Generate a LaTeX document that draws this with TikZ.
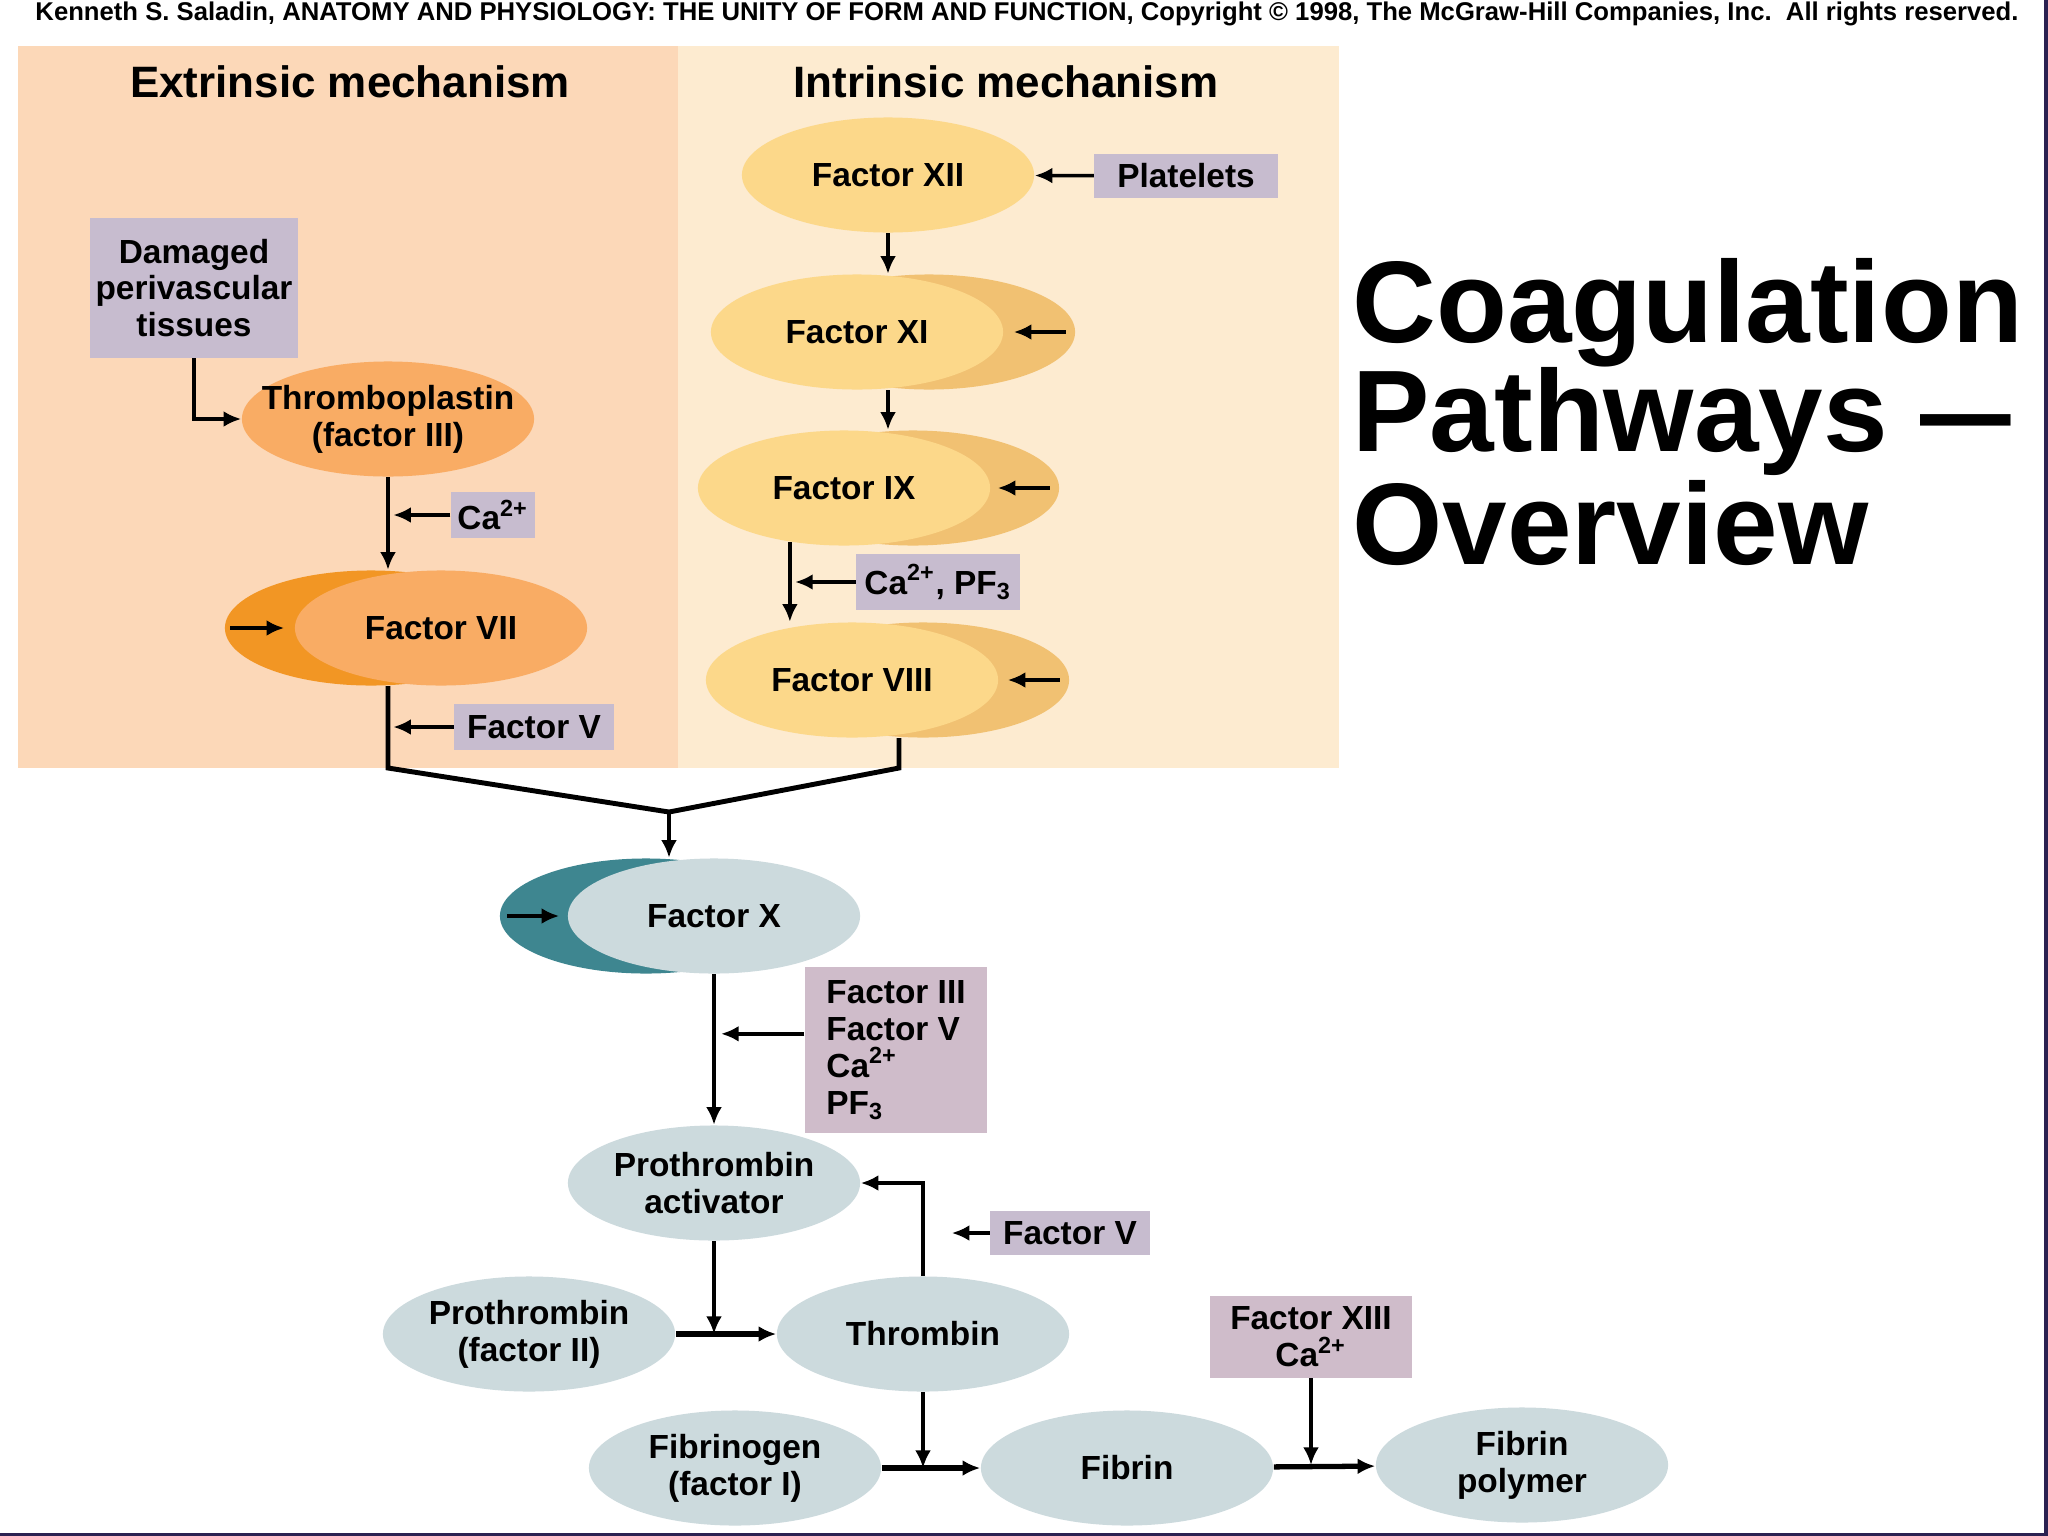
\documentclass[tikz,border=0pt]{standalone}
\usepackage{fontspec}
\setmainfont{Liberation Sans}
\usetikzlibrary{arrows.meta,calc,shapes.geometric}

\definecolor{extbg}{HTML}{FCD8B8}
\definecolor{intbg}{HTML}{FDEBD0}
\definecolor{orangelt}{HTML}{F9AC64}
\definecolor{orangedk}{HTML}{F29624}
\definecolor{yellowlt}{HTML}{FCD88A}
\definecolor{yellowdk}{HTML}{F1C172}
\definecolor{greylt}{HTML}{CCDADD}
\definecolor{tealdk}{HTML}{3E8690}
\definecolor{lilac}{HTML}{C7BCCF}
\definecolor{lilacpk}{HTML}{CFBCCA}
\definecolor{frame}{HTML}{2B2152}

\begin{document}
\begin{tikzpicture}[x=0.01cm,y=-0.01cm,
  font=\fontsize{9.5}{10.5}\selectfont\bfseries,
  >={Latex[length=5pt,width=4.5pt]},
  fac/.style={ellipse,minimum width=2.92cm,minimum height=1.15cm,inner xsep=-2cm,inner ysep=-1cm,align=center},
  org/.style={fac,fill=orangelt},
  yel/.style={fac,fill=yellowlt},
  gry/.style={fac,fill=greylt},
  lab/.style={fill=lilac,inner sep=0pt,align=center},
  link/.style={->,line width=1pt},
  merge/.style={line width=1.4pt,line join=miter},
  big/.style={anchor=base west,font=\fontsize{33}{33}\selectfont\bfseries}]
  \useasboundingbox (0,0) rectangle (2048,1536);
  \fill[white] (0,0) rectangle (2048,1536);
  \fill[frame] (2044,0) rectangle (2048,1536);
  \fill[frame] (0,1533) rectangle (2048,1536);

  \node[font=\fontsize{7.3}{8}\selectfont\bfseries] (hdr) at (1027,14) {Kenneth S. Saladin, ANATOMY AND PHYSIOLOGY: THE UNITY OF FORM AND FUNCTION, Copyright \textcopyright{} 1998, The McGraw-Hill Companies, Inc.\ \ All rights reserved.};

  % panels
  \fill[extbg] (18,46) rectangle (678,768);
  \fill[intbg] (678,46) rectangle (1339,768);
  \node[font=\fontsize{12.5}{14}\selectfont\bfseries] (ext) at (350,82) {Extrinsic mechanism};
  \node[font=\fontsize{12.5}{14}\selectfont\bfseries] (int) at (1006,82) {Intrinsic mechanism};

  % extrinsic
  \node[lab,minimum width=2.08cm,minimum height=1.39cm] (dmg) at (194,288) {Damaged\\perivascular\\tissues};
  \node[org] (F3) at (388,419) {Thromboplastin\\(factor III)};
  \node[lab,minimum width=0.84cm,minimum height=0.46cm] (ca1) at (493,515) {Ca\textsuperscript{2+}};
  \node[fac,fill=orangedk] (F7b) at (371,628) {};
  \node[org] (F7) at (441,628) {Factor VII};
  \node[lab,minimum width=1.59cm,minimum height=0.45cm] (fv1) at (534,727) {Factor V};
  \coordinate (a7) at ($(F7b.west)+(6,0)$);
  \coordinate (kL) at (388,768);

  \draw[link] (dmg) |- (F3);
  \draw[link] (F3) -- (F3 |- F7b.north);
  \draw[link,shorten >=1.5pt] (ca1) -- (ca1 -| F3);
  \draw[link] (a7) -- ++(54,0);
  \draw[link,shorten >=1.5pt] (fv1) -- (fv1 -| F3);

  % intrinsic
  \node[yel] (F12) at (888,175) {Factor XII};
  \node[lab,minimum width=1.83cm,minimum height=0.43cm] (plt) at (1186,176) {Platelets};
  \node[fac,fill=yellowdk] (F11b) at (929,332) {};
  \node[yel] (F11) at (857,332) {Factor XI};
  \node[fac,fill=yellowdk] (F9b) at (913,488) {};
  \node[yel] (F9) at (844,488) {Factor IX};
  \node[lab,minimum width=1.63cm,minimum height=0.56cm] (ca2) at (938,582) {Ca\textsuperscript{2+}, PF\textsubscript{3}};
  \node[fac,fill=yellowdk] (F8b) at (923,680) {};
  \node[yel] (F8) at (852,680) {Factor VIII};
  \coordinate (a11) at ($(F11b.east)+(-10,0)$);
  \coordinate (a9) at ($(F9b.east)+(-10,0)$);
  \coordinate (a8) at ($(F8b.east)+(-10,0)$);
  \coordinate (kR) at (899,768);

  \draw[link] (plt) -- (F12);
  \draw[link] (F12) -- (F12 |- F11.north);
  \draw[link] (F12 |- F11b.south) -- (F12 |- F9.north);
  \draw[link] (F9.225) -- (F9.225 |- F8.north);
  \draw[link,shorten >=1.5pt] (ca2) -- (ca2 -| F9.225);
  \draw[link] (a11) -- ++(-52,0);
  \draw[link] (a9) -- ++(-52,0);
  \draw[link] (a8) -- ++(-52,0);

  % common pathway
  \coordinate (jn) at (669,812);
  \node[fac,fill=tealdk] (F10b) at (646,916) {};
  \node[gry] (F10) at (714,916) {Factor X};
  \coordinate (a10) at ($(F10b.west)+(8,0)$);
  \node[lab,fill=lilacpk,minimum width=1.82cm,minimum height=1.65cm,align=left] (cof) at (896,1050) {Factor III\\Factor V\\Ca\textsuperscript{2+}\\PF\textsubscript{3}};
  \node[gry] (pa) at (714,1183) {Prothrombin\\activator};
  \node[gry] (pt) at (529,1334) {Prothrombin\\(factor II)};
  \node[gry] (th) at (923,1334) {Thrombin};
  \node[lab,minimum width=1.59cm,minimum height=0.44cm] (fv2) at (1070,1233) {Factor V};
  \node[gry] (fg) at (735,1468) {Fibrinogen\\(factor I)};
  \node[gry] (fb) at (1127,1468) {Fibrin};
  \node[gry] (fp) at (1522,1465) {Fibrin\\polymer};
  \node[lab,fill=lilacpk,minimum width=2.01cm,minimum height=0.81cm] (f13) at (1311,1337) {Factor XIII\\Ca\textsuperscript{2+}};

  \draw[merge] (F7b.south -| kL) -- (kL) -- (jn) -- (kR) -- (F8b.south -| kR);
  \draw[link] (jn) -- (jn |- F10b.north);
  \draw[link] (a10) -- ++(52,0);
  \draw[link] (F10) -- (pa);
  \draw[link,shorten >=2pt] (cof.170) -- (cof.170 -| pa);
  \draw[link] (pa) -- (pa |- pt);
  \draw[link,line width=1.5pt] (pt) -- (th);
  \draw[link] (th) |- (pa);
  \draw[link] (fv2.west) -- ++(-38,0);
  \draw[link] (th) -- (th |- fg);
  \draw[link,line width=1.5pt] (fg) -- (fb);
  \draw[link] (f13) -- (f13 |- fp);
  \draw[link,line width=1.5pt] (fb) -- (fp);

  % title
  \node[big] (t1) at (1340,342) {Coagulation};
  \node[big] (t2) at (1340,451) {Pathways \scalebox{0.78}[1]{—}};
  \node[big] (t3) at (1340,564) {Overview};
\end{tikzpicture}
\end{document}
